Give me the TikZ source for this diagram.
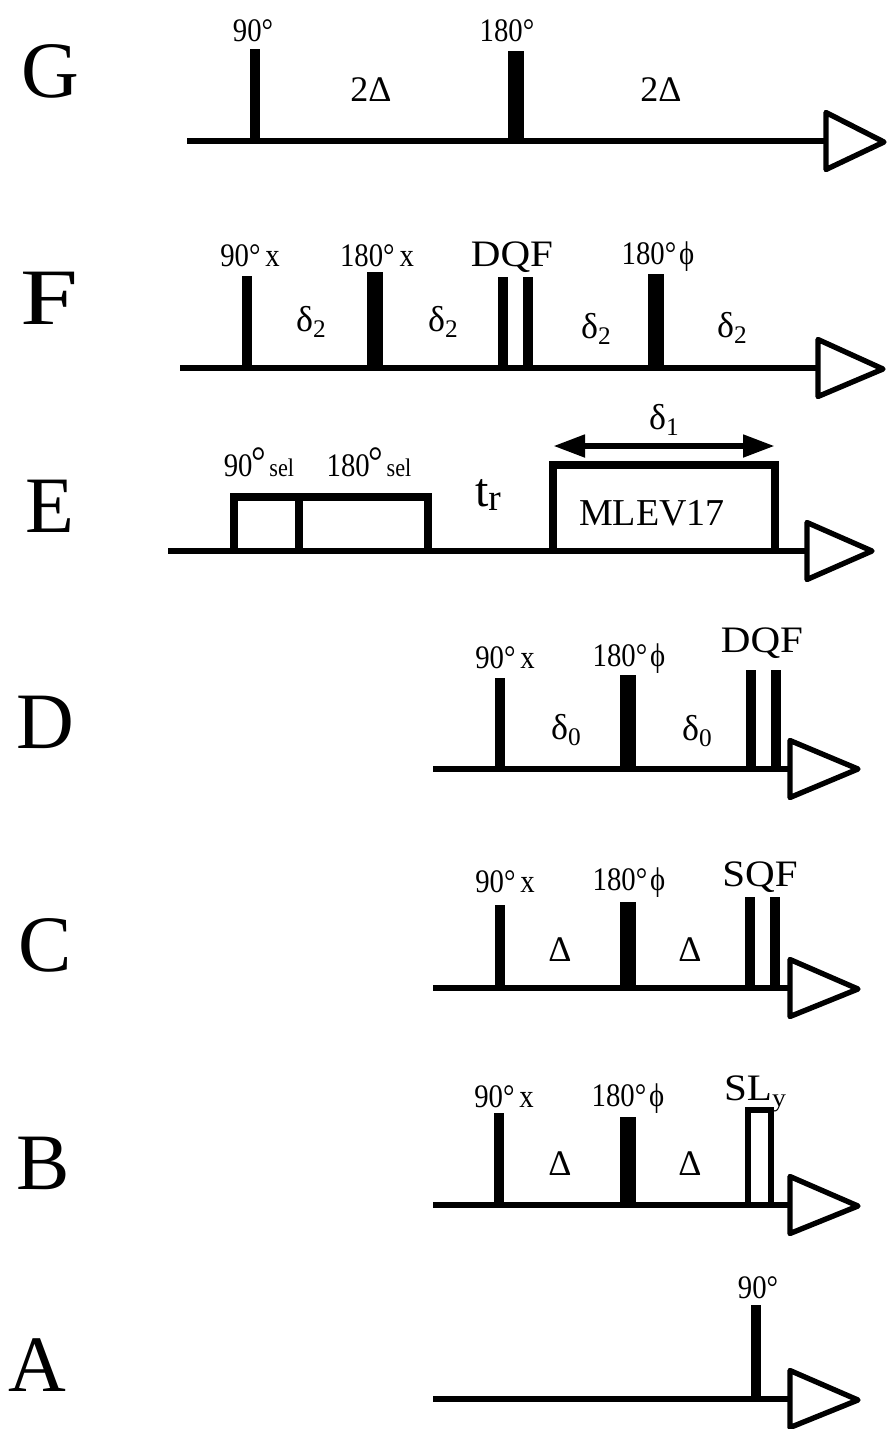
\documentclass[tikz,border=0pt]{standalone}
\usepackage{fontspec}
\usetikzlibrary{arrows.meta}
\setmainfont{Liberation Serif}
\newcommand{\lowsub}[1]{\raisebox{-0.16em}{\fontsize{19}{20}\selectfont #1}}
\newcommand{\seldeg}{\raisebox{0.02em}{\fontsize{28}{28}\selectfont\hspace{-0.03em}°}}
\newcommand{\seltxt}{\fontsize{17}{18}\selectfont\hspace{0.15em}sel}
\newcommand{\phisym}{\hspace{0.1em}ϕ}
\newcommand{\pulseat}[5]{%
  \coordinate (#1b) at (#2,#4);
  \coordinate (#1t) at (#2,#3);
  \draw[#5] (#1b) -- (#1t);}
\newcommand{\axisat}[6]{%
  \coordinate (#1s) at (#2,#4);
  \coordinate (#1u) at (#3,#4-28.5);
  \coordinate (#1m) at (#3,#4);
  \coordinate (#1d) at (#3,#4+28.5);
  \coordinate (#1p) at (#5,#4+#6);
  \draw[axisline] (#1s) -- (#1m);
  \draw[outtri] (#1u) -- (#1p) -- (#1d) -- cycle;}
\tikzset{
  axisline/.style={line width=4pt},
  outtri/.style={line width=4pt,line join=round,fill=white},
  thinp/.style={line width=6.8pt},
  thickp/.style={line width=12pt},
  midp/.style={line width=6.8pt},
  slbox/.style={line width=3.8pt},
  selbox/.style={line width=6pt,line join=miter},
  mlevbox/.style={line width=6.5pt,line join=miter},
  lbl/.style={inner sep=0pt,font=\fontsize{22}{23}\selectfont,xscale=.98,yscale=1.12,transform shape},
  filt/.style={inner sep=0pt,font=\fontsize{28}{29}\selectfont,xscale=1.1,transform shape},
  dly/.style={inner sep=0pt,font=\fontsize{27}{28}\selectfont},
  bigl/.style={inner sep=0pt,font=\fontsize{60}{62}\selectfont},
}
\begin{document}
\begin{tikzpicture}[x=0.75pt,y=-0.75pt]
\useasboundingbox (0,0) rectangle (887,1429);
% G
\node[bigl] (nG) at (50,71) {G};
\axisat{g}{187}{826}{141}{884}{1}
\pulseat{g1}{255}{49}{141}{thinp}
\pulseat{g2}{515.5}{51}{141}{thickp}
\node[lbl] (lg1) at (253,31) {90°};
\node[lbl] (lg2) at (507,31) {180°};
\node[dly] (dg1) at (371,90) {2Δ};
\node[dly] (dg2) at (661,90) {2Δ};
% F
\node[bigl,xscale=1.3,transform shape] (nF) at (49,298) {F};
\axisat{f}{180}{818}{368}{883}{1}
\pulseat{f1}{247}{276}{368}{thinp}
\pulseat{f2}{375}{272}{368}{thickp}
\pulseat{f3}{503}{277}{368}{midp}
\pulseat{f4}{528}{277}{368}{midp}
\pulseat{f5}{656}{274}{368}{thickp}
\node[lbl] (lf1) at (250,256) {90°\,x};
\node[lbl] (lf2) at (377,256) {180°\,x};
\node[filt] (lf3) at (512,257) {DQF};
\node[lbl] (lf4) at (658,257) {180°\phisym};
\node[dly] (df1) at (311,322) {δ\lowsub{2}};
\node[dly] (df2) at (443,322) {δ\lowsub{2}};
\node[dly] (df3) at (596,329) {δ\lowsub{2}};
\node[dly] (df4) at (732,328) {δ\lowsub{2}};
% E
\node[bigl] (nE) at (50,506) {E};
\axisat{e}{168}{807}{551}{872}{0}
\coordinate (e1a) at (234,551);
\coordinate (e1b) at (234,497);
\coordinate (e1c) at (428,497);
\coordinate (e1d) at (428,551);
\coordinate (e1e) at (299,497);
\coordinate (e1f) at (299,551);
\draw[selbox] (e1a) -- (e1b) -- (e1c) -- (e1d);
\draw[selbox] (e1e) -- (e1f);
\coordinate (e2a) at (553,551);
\coordinate (e2b) at (553,465);
\coordinate (e2c) at (775,465);
\coordinate (e2d) at (775,551);
\draw[mlevbox] (e2a) -- (e2b) -- (e2c) -- (e2d);
\coordinate (e3a) at (553,446);
\coordinate (e3b) at (775,446);
\draw[line width=5pt,{Triangle[length=24pt,width=16pt]}-{Triangle[length=24pt,width=16pt]}] (e3a) -- (e3b);
\node[lbl] (le1) at (259,462) {90\seldeg\seltxt};
\node[lbl] (le2) at (369,462) {180\seldeg\seltxt};
\node[inner sep=0pt,font=\fontsize{36}{37}\selectfont] (de0) at (488,495) {t\raisebox{-0.1em}{\fontsize{28}{29}\selectfont r}};
\node[inner sep=0pt,font=\fontsize{28.5}{29}\selectfont] (ml) at (652,513) {MLEV17};
\node[dly] (de1) at (664,420) {δ\lowsub{1}};
% D
\node[bigl] (nD) at (45,722) {D};
\axisat{d}{433}{790}{769}{858}{0}
\pulseat{d1}{500}{678}{769}{thinp}
\pulseat{d2}{628}{675}{769}{thickp}
\pulseat{d3}{751}{670}{769}{midp}
\pulseat{d4}{776}{670}{769}{midp}
\node[lbl] (ld1) at (505,658) {90°\,x};
\node[lbl] (ld2) at (629,659) {180°\phisym};
\node[filt] (ld3) at (762,643) {DQF};
\node[dly] (dd1) at (566,730) {δ\lowsub{0}};
\node[dly] (dd2) at (697,731) {δ\lowsub{0}};
% C
\node[bigl] (nC) at (45,945) {C};
\axisat{c}{433}{790}{988}{858}{1}
\pulseat{c1}{500}{905}{988}{thinp}
\pulseat{c2}{628}{902}{988}{thickp}
\pulseat{c3}{750}{897}{988}{midp}
\pulseat{c4}{775}{897}{988}{midp}
\node[lbl] (lc1) at (505,882) {90°\,x};
\node[lbl] (lc2) at (629,883) {180°\phisym};
\node[filt] (lc3) at (760,877) {SQF};
\node[dly] (dc1) at (560,950) {Δ};
\node[dly] (dc2) at (690,950) {Δ};
% B
\node[bigl] (nB) at (43,1163) {B};
\axisat{b}{433}{790}{1205}{858}{1}
\pulseat{b1}{499}{1113}{1205}{thinp}
\pulseat{b2}{628}{1117}{1205}{thickp}
\coordinate (b3a) at (748,1205);
\coordinate (b3b) at (748,1110);
\coordinate (b3c) at (771,1110);
\coordinate (b3d) at (771,1205);
\draw[slbox] (b3a) -- (b3b) -- (b3c) -- (b3d);
\node[lbl] (lb1) at (504,1097) {90°\,x};
\node[lbl] (lb2) at (628,1099) {180°\phisym};
\node[filt] (lb3) at (755,1094) {SL\lowsub{y}};
\node[dly] (db1) at (560,1164) {Δ};
\node[dly] (db2) at (690,1164) {Δ};
% A
\node[bigl] (nA) at (37,1365) {A};
\axisat{a}{433}{790}{1399}{858}{1}
\pulseat{a1}{756}{1305}{1399}{thinp}
\node[lbl] (la1) at (758,1288) {90°};
\end{tikzpicture}
\end{document}
